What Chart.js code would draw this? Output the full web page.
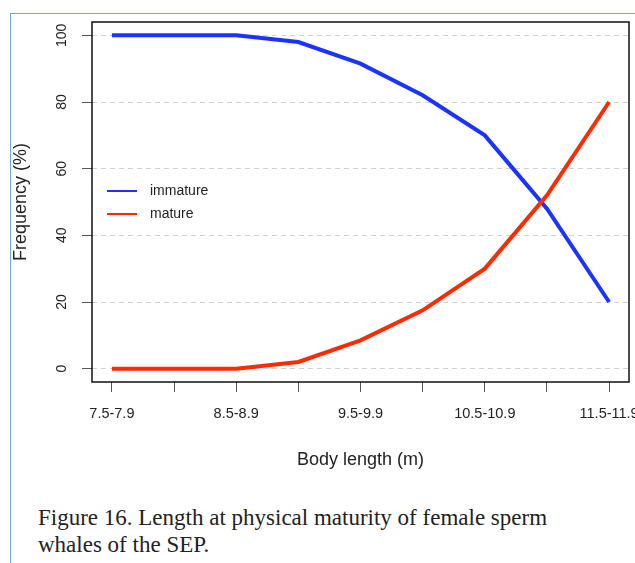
<!DOCTYPE html>
<html>
<head>
<meta charset="utf-8">
<script src="https://cdn.jsdelivr.net/npm/chart.js@4"></script>
<style>
body { margin: 0; background: #fff; width: 635px; height: 563px; overflow: hidden; position: relative; }
#frameTop { position: absolute; left: 10px; top: 13px; width: 625px; height: 0; border-top: 1.5px solid #7ba6cc; }
#frameLeft { position: absolute; left: 10px; top: 13px; width: 0; height: 550px; border-left: 1.5px solid #7ba6cc; }
#c { position: absolute; left: 0; top: 0; }
#caption { position: absolute; left: 38px; top: 504px; font-family: "Liberation Serif", serif; font-size: 23px; line-height: 27px; color: #222; white-space: nowrap; }
</style>
</head>
<body>
<div id="frameTop"></div>
<div id="frameLeft"></div>
<canvas id="c" width="635" height="480"></canvas>
<div id="caption">Figure 16. Length at physical maturity of female sperm<br>whales of the SEP.</div>
<script>
// body length classes (m)
const lengthClasses = ['7.5-7.9', '8.0-8.4', '8.5-8.9', '9.0-9.4', '9.5-9.9', '10.0-10.4', '10.5-10.9', '11.0-11.4', '11.5-11.9'];
// frequency (%)
const immature = [100, 100, 100, 98, 91.5, 82, 70, 48, 20];
const mature = [0, 0, 0, 2, 8.5, 17.5, 30, 52, 80];
const yTicks = [0, 20, 40, 60, 80, 100];

const blue = '#1a33ff';
const red = '#ff2a00';
const font = '"Liberation Sans", Arial, sans-serif';

const toPoints = arr => arr.map((v, i) => ({ x: i, y: v }));

const extras = {
    id: 'extras',
    afterDraw(chart) {
        const ctx = chart.ctx;
        const a = chart.chartArea;
        const ys = chart.scales.y;
        ctx.save();
        // box
        ctx.strokeStyle = '#111';
        ctx.lineWidth = 1.5;
        ctx.strokeRect(a.left, a.top, a.right - a.left, a.bottom - a.top);

        // rotated y tick labels
        ctx.fillStyle = '#222';
        ctx.font = '14px ' + font;
        ctx.textAlign = 'center';
        ctx.textBaseline = 'middle';
        yTicks.forEach(v => {
            ctx.save();
            ctx.translate(62, ys.getPixelForValue(v));
            ctx.rotate(-Math.PI / 2);
            ctx.fillText(String(v), 0, 0);
            ctx.restore();
        });

        // axis titles
        ctx.font = '18px ' + font;
        ctx.fillText('Body length (m)', (a.left + a.right) / 2, 460);
        ctx.save();
        ctx.translate(21, 202);
        ctx.rotate(-Math.PI / 2);
        ctx.fillText('Frequency (%)', 0, 0);
        ctx.restore();

        // legend
        const items = [['immature', blue, 191], ['mature', red, 214]];
        ctx.font = '14px ' + font;
        ctx.textAlign = 'left';
        items.forEach(([label, col, y]) => {
            ctx.strokeStyle = col;
            ctx.lineWidth = 2;
            ctx.beginPath();
            ctx.moveTo(107, y);
            ctx.lineTo(137, y);
            ctx.stroke();
            ctx.fillText(label, 150, y);
        });
        ctx.restore();
    }
};

new Chart(document.getElementById('c'), {
    type: 'line',
    data: {
        datasets: [
            { label: 'mature', data: toPoints(mature), borderColor: red, borderWidth: 4, pointRadius: 0, tension: 0 },
            { label: 'immature', data: toPoints(immature), borderColor: blue, borderWidth: 4, pointRadius: 0, tension: 0 }
        ]
    },
    options: {
        responsive: false,
        animation: false,
        layout: { padding: { top: 22, right: 6, left: 0, bottom: 0 } },
        plugins: { legend: { display: false }, tooltip: { enabled: false } },
        scales: {
            x: {
                type: 'linear',
                min: -0.32,
                max: 8.32,
                afterBuildTicks: s => { s.ticks = lengthClasses.map((_, i) => ({ value: i })); },
                afterFit: s => { s.height = 98; s.paddingLeft = 0; s.paddingRight = 0; },
                ticks: {
                    autoSkip: false, maxRotation: 0, minRotation: 0, padding: 13,
                    color: '#222', font: { family: font, size: 14.5 },
                    callback: v => (v % 2 === 0 ? lengthClasses[v] : '')
                },
                grid: { drawOnChartArea: false, drawTicks: true, tickLength: 10, tickColor: '#555', tickWidth: 1 },
                border: { display: false }
            },
            y: {
                min: -4,
                max: 104,
                afterBuildTicks: s => { s.ticks = yTicks.map(v => ({ value: v })); },
                afterFit: s => { s.width = 92; s.paddingTop = 0; s.paddingBottom = 0; },
                ticks: { display: false },
                grid: { color: '#d2d2d2', lineWidth: 1, tickLength: 10, tickColor: '#555', tickWidth: 1, tickBorderDash: [] },
                border: { display: false, dash: [5, 4] }
            }
        }
    },
    plugins: [extras]
});
</script>
</body>
</html>
